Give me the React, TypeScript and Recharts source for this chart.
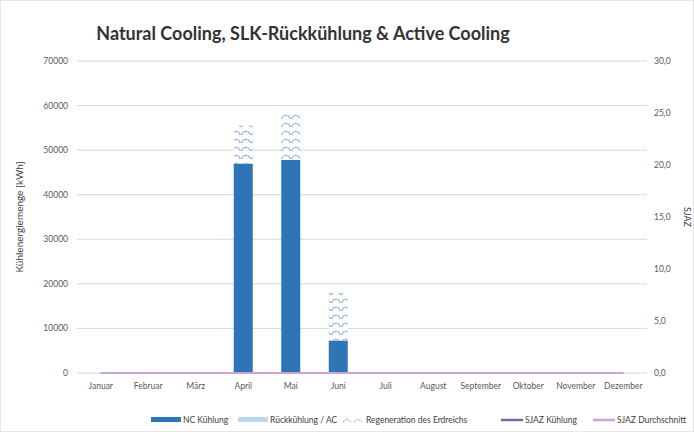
import { Bar, CartesianGrid, ComposedChart, Legend, Line, XAxis, YAxis } from 'recharts';

const months = [
  'Januar', 'Februar', 'März', 'April', 'Mai', 'Juni',
  'Juli', 'August', 'September', 'Oktober', 'November', 'Dezember',
];
const ncKuehlung = [0, 0, 0, 47000, 47800, 7300, 0, 0, 0, 0, 0, 0];
const rueckkuehlung = [0, 0, 0, 0, 0, 0, 0, 0, 0, 0, 0, 0];
const regeneration = [0, 0, 0, 8500, 10200, 10700, 0, 0, 0, 0, 0, 0];
const sjazKuehlung = [0, 0, 0, 0, 0, 0, 0, 0, 0, 0, 0, 0];
const sjazDurchschnitt = [0, 0, 0, 0, 0, 0, 0, 0, 0, 0, 0, 0];
const leftTicks = [0, 10000, 20000, 30000, 40000, 50000, 60000, 70000];
const rightTicks = [0, 5, 10, 15, 20, 25, 30];

const data = months.map((m, i) => ({
  month: m,
  nc: ncKuehlung[i],
  rk: rueckkuehlung[i],
  regen: regeneration[i],
  sjaz: sjazKuehlung[i],
  sjazAvg: sjazDurchschnitt[i],
}));

const FONT = 'Lato, "Noto Sans", sans-serif';
const TICK = { fontSize: 8.5, fill: '#595959', fontFamily: FONT };

const legendItems = [
  { label: 'NC Kühlung', kind: 'bar', color: '#2e75b6', x: 150 },
  { label: 'Rückkühlung / AC', kind: 'bar', color: '#bdd7ee', x: 237 },
  { label: 'Regeneration des Erdreichs', kind: 'pattern', color: '#7fa6cf', x: 341 },
  { label: 'SJAZ Kühlung', kind: 'line', color: '#8064a2', x: 492 },
  { label: 'SJAZ Durchschnitt', kind: 'line', color: '#c9a6d4', x: 584 },
];

function ChartLegend() {
  return (
    <div style={{ position: 'relative', width: 694, height: 16, fontFamily: FONT, fontSize: 8.5, color: '#404040' }}>
      {legendItems.map((it) => (
        <div key={it.label} style={{ position: 'absolute', left: it.x, top: 1, display: 'flex', alignItems: 'center', whiteSpace: 'nowrap' }}>
          <svg width={it.kind === 'pattern' ? 22 : 30} height={8} style={{ marginRight: 2 }}>
            {it.kind === 'bar' && <rect x={0} y={1} width={30} height={5} fill={it.color} />}
            {it.kind === 'pattern' && (
              <path d="M1 6 L5 3 L9 6 M12 6 L16 3 L20 6" stroke={it.color} strokeDasharray="2 1" fill="none" />
            )}
            {it.kind === 'line' && <line x1={8} x2={30} y1={4} y2={4} stroke={it.color} strokeWidth={2.5} />}
          </svg>
          <span>{it.label}</span>
        </div>
      ))}
    </div>
  );
}

export default function App() {
  return (
    <div style={{ position: 'absolute', left: 0, top: 0, width: 694, height: 432, background: '#fff', border: '1px solid #e6e6e6', boxSizing: 'border-box' }}>
      <svg width={0} height={0} style={{ position: 'absolute' }}>
        <defs>
          <pattern id="regenWave" patternUnits="userSpaceOnUse" width={10} height={8}>
            <rect width={10} height={8} fill="#ffffff" />
            <path d="M0.5 6 Q2.5 2 5 2.5 Q7.5 2 9.5 6" stroke="#7fa6cf" strokeWidth={1.3} strokeDasharray="1.8 0.7" fill="none" />
          </pattern>
        </defs>
      </svg>
      <div style={{ position: 'absolute', left: 0, top: 21, width: 604, textAlign: 'center', fontFamily: FONT, fontWeight: 700, fontSize: 18, color: '#333' }}>
        Natural Cooling, SLK-Rückkühlung &amp; Active Cooling
      </div>
      <ComposedChart
        width={694}
        height={432}
        data={data}
        barCategoryGap="30%"
        margin={{ top: 60, right: 0, bottom: 40, left: 0 }}
      >
        <CartesianGrid vertical={false} stroke="#d9d9d9" yAxisId="left" />
        <XAxis dataKey="month" tick={TICK} tickLine={false} axisLine={false} interval={0} height={20} tickMargin={4} />
        <YAxis
          yAxisId="left"
          width={76}
          domain={[0, 70000]}
          ticks={leftTicks}
          tick={TICK}
          tickLine={false}
          axisLine={false}
          tickMargin={3}
          label={{ value: 'Kühlenergiemenge [kWh]', angle: -90, position: 'insideLeft', offset: 18, style: { ...TICK, fontSize: 10, fill: '#404040', textAnchor: 'middle' } }}
        />
        <YAxis
          yAxisId="right"
          orientation="right"
          width={48}
          domain={[0, 30]}
          ticks={rightTicks}
          tickFormatter={(v: number) => v.toFixed(1).replace('.', ',')}
          tick={TICK}
          tickLine={false}
          axisLine={false}
          tickMargin={1}
          label={{ value: 'SJAZ', angle: 90, position: 'insideRight', offset: 8, style: { ...TICK, fontSize: 9, fill: '#404040', textAnchor: 'middle' } }}
        />
        <Bar yAxisId="left" dataKey="nc" stackId="a" fill="#2e75b6" isAnimationActive={false} />
        <Bar yAxisId="left" dataKey="rk" stackId="a" fill="#bdd7ee" isAnimationActive={false} />
        <Bar yAxisId="left" dataKey="regen" stackId="a" fill="url(#regenWave)" isAnimationActive={false} />
        <Line yAxisId="right" dataKey="sjaz" stroke="#8064a2" strokeWidth={2} dot={false} isAnimationActive={false} />
        <Line yAxisId="right" dataKey="sjazAvg" stroke="#c9a6d4" strokeWidth={2} dot={false} isAnimationActive={false} />
        <Legend verticalAlign="middle" align="center" layout="horizontal" wrapperStyle={{ top: 413, left: 0, width: 694 }} content={() => <ChartLegend />} />
      </ComposedChart>
    </div>
  );
}
